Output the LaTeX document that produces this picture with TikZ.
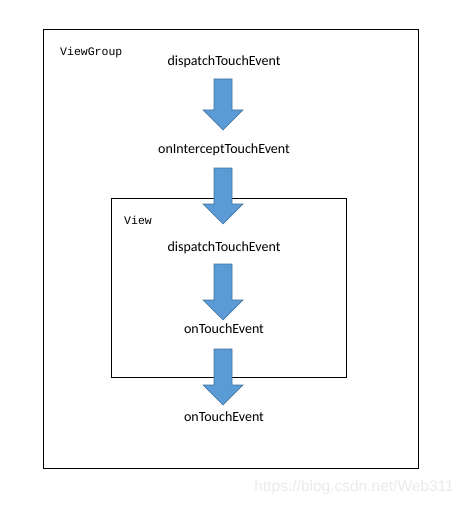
\documentclass[tikz,border=0pt]{standalone}
\usepackage{fontspec}
\setmainfont{Carlito}
\newfontfamily\monofont{Liberation Mono}
\definecolor{arrowfill}{HTML}{5B9BD5}
\definecolor{arrowline}{HTML}{41719C}
\begin{document}
\begin{tikzpicture}[x=1pt,y=-1pt,
  lbl/.style={font=\fontsize{14}{16}\selectfont, inner sep=0pt, anchor=center},
  title/.style={font=\monofont\fontsize{11.5}{13}\selectfont, inner sep=0pt, anchor=west},
  frame/.style={draw=black, line width=0.9pt},
  blockarrow/.style={fill=arrowfill, draw=arrowline, line width=0.6pt, line join=miter}]
\useasboundingbox (0,0) rectangle (464,505);
\fill[white] (0,0) rectangle (464,505);
% boxes
\node[frame, inner sep=0pt, minimum width=375pt, minimum height=439pt, anchor=north west] (vg) at (43,29) {};
\node[frame, inner sep=0pt, minimum width=235pt, minimum height=179pt, anchor=north west] (v) at (111,198) {};
\node[title] (vgt) at (60,53) {ViewGroup};
\node[title] (vt) at (124,220) {View};
% texts
\node[lbl] (d1) at (224,62) {dispatchTouchEvent};
\node[lbl] (i1) at (224,150) {onInterceptTouchEvent};
\node[lbl] (d2) at (224,248) {dispatchTouchEvent};
\node[lbl] (t1) at (224,329) {onTouchEvent};
\node[lbl] (t2) at (224,417) {onTouchEvent};
% arrows
\foreach \top/\tip in {79/130, 168/224, 264/320, 349/405}{
  \draw[blockarrow] (214,\top) -- (232,\top) -- (232,\tip-20) -- (243,\tip-20) -- (223,\tip) -- (203,\tip-20) -- (214,\tip-20) -- cycle;
}
\node[font=\fontspec{Liberation Sans}\fontsize{15.5}{17}\selectfont, text=black!8, inner sep=0pt, anchor=east] (wm) at (454,487) {https://blog.csdn.net/Web311};
\end{tikzpicture}
\end{document}
